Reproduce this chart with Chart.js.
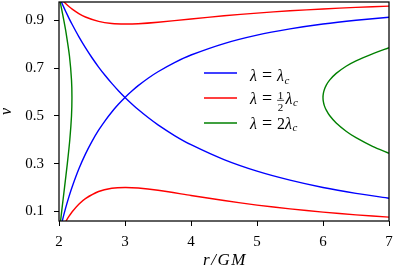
<!DOCTYPE html>
<html>
<head>
<meta charset="utf-8">
<script src="https://cdn.jsdelivr.net/npm/chart.js@4"></script>
<style>
  html, body { margin: 0; padding: 0; background: #fff; }
</style>
</head>
<body>
<canvas id="chart" width="396" height="274"></canvas>
<script>
// r/GM grid shared by the two blue branches
const rBlue = [2.0, 2.05, 2.1, 2.15, 2.2, 2.3, 2.4, 2.5, 2.6, 2.7, 2.8, 2.9, 3.0,
               3.1, 3.2, 3.35, 3.5, 3.75, 4.0, 4.5, 5.0, 5.5, 6.0, 6.5, 7.0];
// branch rising from lower left through the sonic point to upper right
const vBlueRising = [0.0, 0.0605, 0.1137, 0.161, 0.2035, 0.2776, 0.340, 0.3935, 0.44, 0.4806,
                     0.5166, 0.5487, 0.5774, 0.6032, 0.6267, 0.6578, 0.685, 0.7233, 0.755,
                     0.803, 0.8383, 0.8643, 0.8847, 0.9005, 0.9133];
// branch falling from upper left through the sonic point to lower right
const vBlueFalling = [1.0, 0.9685, 0.9383, 0.9097, 0.8826, 0.8318, 0.7857, 0.7435, 0.7046, 0.669,
                      0.6361, 0.6056, 0.5774, 0.5512, 0.5266, 0.4931, 0.4625, 0.4179, 0.3795,
                      0.317, 0.2687, 0.231, 0.2003, 0.1757, 0.1552];

// lambda = lambda_c / 2
const rRed = [2.0, 2.05, 2.1, 2.15, 2.2, 2.3, 2.4, 2.6, 2.8, 3.0, 3.2, 3.5, 4.0, 4.5, 5.0,
              5.5, 6.0, 6.5, 7.0];
const vRedUpper = [1.0, 0.9847, 0.9707, 0.9582, 0.9471, 0.9285, 0.9142, 0.8956, 0.8869, 0.8847,
                   0.8861, 0.8923, 0.906, 0.9192, 0.9306, 0.9401, 0.9479, 0.9543, 0.9597];
const vRedLower = [0.0, 0.0302, 0.0563, 0.0789, 0.0986, 0.1303, 0.154, 0.1836, 0.197, 0.2005,
                   0.198, 0.1885, 0.167, 0.1457, 0.1267, 0.1107, 0.0971, 0.0858, 0.0762];

// lambda = 2 lambda_c, loop near the horizon
const vGreenLeft = [0.0, 0.06, 0.1, 0.2, 0.3, 0.4, 0.5, 0.5774, 0.65, 0.75, 0.85, 0.9, 0.95,
                    0.98, 0.99, 1.0];
const rGreenLeft = [2.0, 2.0238, 2.0405, 2.0835, 2.1262, 2.1637, 2.1893, 2.1961, 2.1896, 2.1589,
                    2.106, 2.0733, 2.0377, 2.0153, 2.0076, 2.0];
// lambda = 2 lambda_c, outer loop
const rGreenRight = [6.0, 6.005, 6.02, 6.05, 6.1, 6.2, 6.35, 6.5, 6.75, 7.0];
const vGreenRightHigh = [0.5774, 0.5938, 0.610, 0.6291, 0.6498, 0.678, 0.708, 0.7307, 0.76, 0.7853];
const vGreenRightLow = [0.5774, 0.5606, 0.543, 0.5241, 0.5018, 0.4703, 0.436, 0.409, 0.3728, 0.3435];

const xTicks = [2, 3, 4, 5, 6, 7];
const yTicks = [0.1, 0.3, 0.5, 0.7, 0.9];

const BLUE = '#0000ff', RED = '#ff0000', GREEN = '#008000';
const SERIF = '"Liberation Serif", "Times New Roman", serif';

function pts(xs, ys) {
    return xs.map((x, i) => ({ x: x, y: ys[i] }));
}

function curve(data, color) {
    return {
        data: data,
        showLine: true,
        borderColor: color,
        borderWidth: 1.4,
        pointRadius: 0,
        tension: 0.25,
        fill: false,
        clip: 0,
    };
}

const greenRightLoop = pts(rGreenRight, vGreenRightLow).reverse()
    .concat(pts(rGreenRight, vGreenRightHigh).slice(1));

const datasets = [
    curve(pts(rBlue, vBlueRising), BLUE),
    curve(pts(rBlue, vBlueFalling), BLUE),
    curve(pts(rRed, vRedUpper), RED),
    curve(pts(rRed, vRedLower), RED),
    curve(pts(rGreenLeft, vGreenLeft), GREEN),
    curve(greenRightLoop, GREEN),
];

// legend text: italic, subscript and a small stacked fraction
function drawMath(ctx, x, y, pieces) {
    ctx.textBaseline = 'alphabetic';
    for (const p of pieces) {
        if (p.frac) {
            ctx.font = '11px ' + SERIF;
            const w = Math.max(ctx.measureText(p.frac[0]).width, ctx.measureText(p.frac[1]).width) + 1.5;
            ctx.textAlign = 'center';
            ctx.fillText(p.frac[0], x + w / 2, y - 4.6);
            ctx.fillText(p.frac[1], x + w / 2, y + 7.4);
            ctx.fillRect(x, y - 3.6, w, 0.7);
            ctx.textAlign = 'left';
            x += w + 1.5;
            continue;
        }
        const size = p.size || (p.sub ? 11 : 16);
        ctx.font = (p.it ? 'italic ' : '') + size + 'px ' + SERIF;
        ctx.fillText(p.t, x, y + (p.sub ? 2.8 : 0));
        x += ctx.measureText(p.t).width + (p.gap || 0);
    }
}

const EQ = { t: '=', size: 18, gap: 5 };
const LAM = { t: 'λ', it: 1, gap: 5 };
const LAMC = [{ t: 'λ', it: 1, gap: 0.5 }, { t: 'c', it: 1, sub: 1 }];

const legendRows = [
    { color: BLUE, lineY: 73, base: 81, pieces: [LAM, EQ].concat(LAMC) },
    { color: RED, lineY: 98, base: 103.5, pieces: [LAM, EQ, { frac: ['1', '2'] }].concat(LAMC) },
    { color: GREEN, lineY: 123, base: 128.5, pieces: [LAM, EQ, { t: '2' }].concat(LAMC) },
];

const frameAndLegend = {
    id: 'frameAndLegend',
    afterDatasetsDraw(chart) {
        const { ctx, chartArea: a } = chart;
        ctx.save();
        ctx.strokeStyle = '#000';
        ctx.lineWidth = 1.25;
        ctx.strokeRect(a.left, a.top, a.right - a.left, a.bottom - a.top);

        legendRows.forEach(row => {
            ctx.strokeStyle = row.color;
            ctx.lineWidth = 1.4;
            ctx.beginPath();
            ctx.moveTo(204, row.lineY);
            ctx.lineTo(237, row.lineY);
            ctx.stroke();
            ctx.fillStyle = '#000';
            drawMath(ctx, 250, row.base, row.pieces);
        });

        // axis titles
        ctx.fillStyle = '#000';
        ctx.textAlign = 'center';
        ctx.textBaseline = 'middle';
        ctx.font = 'italic 17px ' + SERIF;
        ctx.letterSpacing = '1.5px';
        ctx.fillText('r/GM', (a.left + a.right) / 2 + 1, 261);
        ctx.letterSpacing = '0px';
        ctx.translate(7, (a.top + a.bottom) / 2);
        ctx.rotate(-Math.PI / 2);
        ctx.font = 'italic 16px ' + SERIF;
        ctx.fillText('v', 0, 0);
        ctx.restore();
    }
};

new Chart(document.getElementById('chart'), {
    type: 'scatter',
    data: { datasets },
    options: {
        responsive: false,
        animation: false,
        layout: { padding: { top: 2, right: 7, left: 0, bottom: 0 } },
        plugins: { legend: { display: false }, tooltip: { enabled: false } },
        scales: {
            x: {
                type: 'linear',
                min: 2,
                max: 7,
                afterBuildTicks: ax => { ax.ticks = xTicks.map(v => ({ value: v })); },
                afterFit: ax => {
                    ax.height = 53;
                    ax.paddingLeft = 0;
                    ax.paddingRight = 0;
                },
                ticks: {
                    color: '#000',
                    font: { family: SERIF, size: 15 },
                    padding: 7,
                    maxRotation: 0,
                    callback: v => String(v),
                },
                grid: { drawOnChartArea: false, drawTicks: true, tickLength: 5, color: '#000', lineWidth: 1 },
                border: { display: false },
            },
            y: {
                type: 'linear',
                min: 0.06,
                max: 0.977,
                afterBuildTicks: ax => { ax.ticks = yTicks.map(v => ({ value: v })); },
                afterFit: ax => {
                    ax.width = 59;
                    ax.paddingTop = 0;
                    ax.paddingBottom = 0;
                },
                ticks: {
                    color: '#000',
                    font: { family: SERIF, size: 15 },
                    padding: 10,
                    callback: v => v.toFixed(1),
                },
                grid: { drawOnChartArea: false, drawTicks: true, tickLength: 5, color: '#000', lineWidth: 1 },
                border: { display: false },
            },
        },
    },
    plugins: [frameAndLegend],
});
</script>
</body>
</html>
